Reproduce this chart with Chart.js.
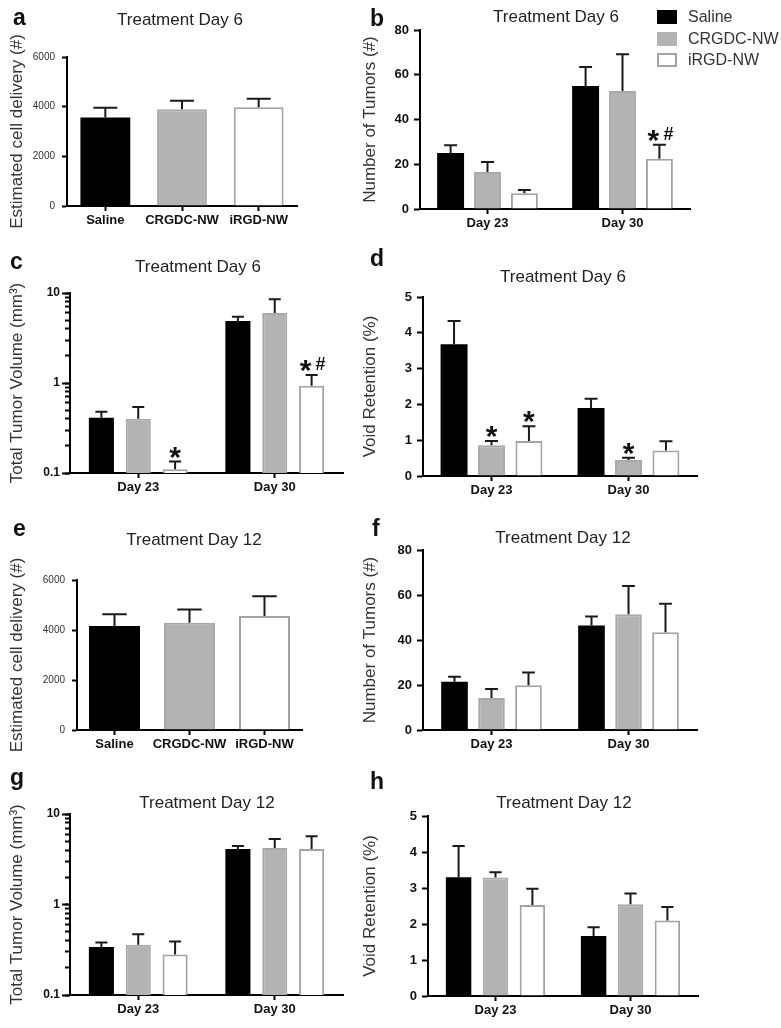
<!DOCTYPE html>
<html>
<head>
<meta charset="utf-8">
<script src="https://cdn.jsdelivr.net/npm/chart.js@4.4.1/dist/chart.umd.min.js"></script>
<style>
  body { margin: 0; background: #fff; width: 781px; height: 1028px; position: relative; overflow: hidden;
         font-family: 'Liberation Sans', Arial, sans-serif; }
  canvas { position: absolute; }
  .letter { position: absolute; font-weight: bold; font-size: 23px; line-height: 23px; color: #111; }
  .ttl { position: absolute; font-size: 17px; line-height: 17px; color: #222; white-space: nowrap; transform: translateX(-50%); }
  .sw { position: absolute; width: 20px; height: 14px; box-sizing: border-box; }
  .lt { position: absolute; font-size: 16px; line-height: 16px; color: #333; white-space: nowrap; }
</style>
</head>
<body>
<canvas id="ca"></canvas><canvas id="cb"></canvas>
<canvas id="cc"></canvas><canvas id="cd"></canvas>
<canvas id="ce"></canvas><canvas id="cf"></canvas>
<canvas id="cg"></canvas><canvas id="ch"></canvas>

<div class="letter" style="left:13px;top:6px">a</div>
<div class="letter" style="left:370px;top:7px">b</div>
<div class="letter" style="left:10px;top:250px">c</div>
<div class="letter" style="left:370px;top:247px">d</div>
<div class="letter" style="left:13px;top:517px">e</div>
<div class="letter" style="left:372px;top:517px">f</div>
<div class="letter" style="left:10px;top:766px">g</div>
<div class="letter" style="left:370px;top:770px">h</div>

<div class="ttl" style="left:180px;top:11px">Treatment Day 6</div>
<div class="ttl" style="left:556px;top:8px">Treatment Day 6</div>
<div class="ttl" style="left:198px;top:258px">Treatment Day 6</div>
<div class="ttl" style="left:563px;top:268px">Treatment Day 6</div>
<div class="ttl" style="left:194px;top:531px">Treatment Day 12</div>
<div class="ttl" style="left:563px;top:529px">Treatment Day 12</div>
<div class="ttl" style="left:207px;top:794px">Treatment Day 12</div>
<div class="ttl" style="left:564px;top:794px">Treatment Day 12</div>

<div class="sw" style="left:657px;top:10px;background:#000"></div>
<div class="lt" style="left:688px;top:9px">Saline</div>
<div class="sw" style="left:657px;top:32px;background:#b3b3b3"></div>
<div class="lt" style="left:688px;top:31px">CRGDC-NW</div>
<div class="sw" style="left:657px;top:53px;background:#fff;border:2px solid #a3a3a3"></div>
<div class="lt" style="left:688px;top:52px">iRGD-NW</div>

<script>
// categories
const GROUPS = ['Saline', 'CRGDC-NW', 'iRGD-NW'];
const DAYS = ['Day 23', 'Day 30'];

// a, e: estimated cell delivery, mean and SEM per group
const A_MEAN = [3560, 3900, 3980];
const A_SEM = [400, 340, 340];
const E_MEAN = [4160, 4290, 4560];
const E_SEM = [470, 530, 790];

// b, f: number of tumors (rows = groups, columns = days)
const B_MEAN = [[25, 55], [16.5, 52.7], [7, 22.5]];
const B_SEM = [[3.5, 8.5], [4.5, 16.5], [1.5, 6.2]];
const B_MARKS = [['', ''], ['', ''], ['', '*#']];
const F_MEAN = [[21.5, 46.5], [14.2, 51.4], [19.9, 43.4]];
const F_SEM = [[2.2, 3.9], [4.0, 12.6], [5.7, 12.7]];

// c, g: total tumor volume (mm3)
const C_MEAN = [[0.41, 4.9], [0.40, 6.0], [0.11, 0.93]];
const C_SEM = [[0.07, 0.55], [0.14, 2.5], [0.024, 0.30]];
const C_MARKS = [['', ''], ['', ''], ['*', '*#']];
const G_MEAN = [[0.34, 4.1], [0.36, 4.2], [0.28, 4.1]];
const G_SEM = [[0.04, 0.33], [0.11, 1.1], [0.11, 1.56]];

// d, h: void retention (%)
const D_MEAN = [[3.68, 1.90], [0.86, 0.45], [0.98, 0.71]];
const D_SEM = [[0.65, 0.26], [0.12, 0.06], [0.41, 0.26]];
const D_MARKS = [['', ''], ['*', '*'], ['*', '']];
const H_MEAN = [[3.30, 1.67], [3.29, 2.55], [2.53, 2.10]];
const H_SEM = [[0.87, 0.24], [0.15, 0.30], [0.45, 0.37]];

// tick values
const CELL_TICKS = [0, 2000, 4000, 6000];
const COUNT_TICKS = [0, 20, 40, 60, 80];
const VOID_TICKS = [0, 1, 2, 3, 4, 5];
const LOG_TICKS = [0.1, 0.2, 0.3, 0.4, 0.5, 0.6, 0.7, 0.8, 0.9, 1, 2, 3, 4, 5, 6, 7, 8, 9, 10];
const LOG_LABELS = [0.1, 1, 10];

const FILL = ['#000000', '#b3b3b3', '#ffffff'];
const EDGE = ['#000000', '#a9a9a9', '#a3a3a3'];
const FONT = "'Liberation Sans', Arial, sans-serif";

Chart.defaults.font.family = FONT;

function drawMark(ctx, x, top, mark) {
  const chars = mark.split('');
  const offs = chars.length > 1 ? [-6, 9] : [0];
  ctx.fillStyle = '#111';
  ctx.textAlign = 'center';
  ctx.textBaseline = 'alphabetic';
  chars.forEach((ch, k) => {
    if (ch === '*') {
      ctx.font = 'bold 30px ' + FONT;
      ctx.fillText('*', x + offs[k], top + 5);
    } else {
      ctx.font = 'bold 18px ' + FONT;
      ctx.fillText(ch, x + offs[k], top - 5);
    }
  });
}

// upper error bars (mean + SEM) and significance marks
const errorBars = {
  id: 'errorBars',
  afterDatasetsDraw(chart) {
    const ctx = chart.ctx;
    const y = chart.scales.y;
    chart.data.datasets.forEach((ds, di) => {
      chart.getDatasetMeta(di).data.forEach((bar, i) => {
        const top = y.getPixelForValue(ds.data[i] + ds.sem[i]);
        const cap = bar.width * 0.48;
        ctx.save();
        ctx.strokeStyle = '#1a1a1a';
        ctx.lineWidth = 2;
        ctx.beginPath();
        ctx.moveTo(bar.x, bar.y);
        ctx.lineTo(bar.x, top);
        ctx.moveTo(bar.x - cap / 2, top);
        ctx.lineTo(bar.x + cap / 2, top);
        ctx.stroke();
        if (ds.marks && ds.marks[i]) drawMark(ctx, bar.x, top, ds.marks[i]);
        ctx.restore();
      });
    });
  }
};

function groupSets(mean, sem, marks, cat, bar) {
  return GROUPS.map((g, k) => ({
    label: g, data: mean[k], sem: sem[k], marks: marks ? marks[k] : null,
    backgroundColor: FILL[k], borderColor: EDGE[k], borderWidth: k === 0 ? 0 : 2,
    categoryPercentage: cat, barPercentage: bar
  }));
}

function singleSet(mean, sem, bar) {
  return [{
    label: 'delivery', data: mean, sem: sem,
    backgroundColor: FILL, borderColor: EDGE, borderWidth: [0, 2, 2],
    categoryPercentage: 1, barPercentage: bar
  }];
}

function makePanel(id, box, area, spec) {
  const cv = document.getElementById(id);
  cv.width = box[2]; cv.height = box[3];
  cv.style.left = box[0] + 'px'; cv.style.top = box[1] + 'px';
  const yWidth = area[0] - box[0];
  const xHeight = box[1] + box[3] - area[3];
  const isLog = spec.yType === 'logarithmic';
  const shown = isLog ? LOG_LABELS : spec.ticks;
  const scales = {
    x: {
      type: 'category',
      afterFit: s => { s.height = xHeight; },
      grid: { display: true, drawOnChartArea: false, drawTicks: true, offset: false,
              tickLength: 5, tickWidth: 2, tickColor: '#000' },
      border: { display: true, color: '#000', width: 2 },
      ticks: { autoSkip: false, maxRotation: 0, padding: 2, color: '#111',
               font: { size: 13, weight: 'bold' } }
    },
    y: {
      type: spec.yType,
      weight: 1,
      min: spec.ticks[0],
      max: spec.ticks[spec.ticks.length - 1],
      afterBuildTicks: s => { s.ticks = spec.ticks.map(v => ({ value: v, major: shown.includes(v) })); },
      afterFit: s => { s.width = yWidth; },
      ticks: { autoSkip: false, padding: spec.tickPad, color: spec.tickColor, font: spec.tickFont,
               callback: v => shown.includes(v) ? String(v) : '' },
      grid: { display: true, drawOnChartArea: false, drawTicks: true, tickLength: spec.tickLen,
              tickColor: '#000', tickWidth: 2 },
      border: { display: true, color: '#000', width: 2 },
      title: { display: true, text: spec.yTitle, color: '#333',
               font: { size: 17, weight: 'normal' }, padding: { top: 7, bottom: 0 } }
    }
  };
  if (isLog) {
    // second, label-less log axis carrying the longer decade ticks
    scales.yMajor = {
      type: 'logarithmic', position: 'left', weight: 0,
      min: spec.ticks[0], max: spec.ticks[spec.ticks.length - 1],
      afterBuildTicks: s => { s.ticks = LOG_LABELS.map(v => ({ value: v, major: true })); },
      afterFit: s => { s.width = 0; },
      ticks: { display: false },
      grid: { display: true, drawOnChartArea: false, drawTicks: true, tickLength: 8,
              tickColor: '#000', tickWidth: 2 },
      border: { display: false }
    };
  }
  new Chart(cv, {
    type: 'bar',
    data: { labels: spec.labels, datasets: spec.datasets },
    options: {
      responsive: false,
      animation: false,
      devicePixelRatio: 1,
      layout: { padding: { left: 0, bottom: 0, top: area[1] - box[1], right: box[0] + box[2] - area[2] } },
      plugins: { legend: { display: false }, tooltip: { enabled: false } },
      scales: scales
    },
    plugins: [errorBars]
  });
}

const regularTick = { size: 10, weight: 'normal' };
const boldTick = { size: 13, weight: 'bold' };
const logTick = { size: 12, weight: 'bold' };

// a
makePanel('ca', [0, 0, 353, 240], [67, 57, 297, 206], {
  labels: GROUPS, datasets: singleSet(A_MEAN, A_SEM, 0.65),
  yType: 'linear', ticks: CELL_TICKS, tickFont: regularTick, tickColor: '#333', tickLen: 5, tickPad: 7,
  yTitle: 'Estimated cell delivery (#)'
});
// b
makePanel('cb', [353, 0, 428, 240], [420, 30, 690, 209], {
  labels: DAYS, datasets: groupSets(B_MEAN, B_SEM, B_MARKS, 0.82, 0.73),
  yType: 'linear', ticks: COUNT_TICKS, tickFont: boldTick, tickColor: '#111', tickLen: 6, tickPad: 5,
  yTitle: 'Number of Tumors (#)'
});
// c
makePanel('cc', [0, 240, 353, 260], [70, 293, 343, 473], {
  labels: DAYS, datasets: groupSets(C_MEAN, C_SEM, C_MARKS, 0.81, 0.68),
  yType: 'logarithmic', ticks: LOG_TICKS, tickFont: logTick, tickColor: '#111', tickLen: 5, tickPad: 5,
  yTitle: 'Total Tumor Volume (mm\u00b3)'
});
// d
makePanel('cd', [353, 240, 428, 260], [423, 297, 697, 476], {
  labels: DAYS, datasets: groupSets(D_MEAN, D_SEM, D_MARKS, 0.82, 0.72),
  yType: 'linear', ticks: VOID_TICKS, tickFont: boldTick, tickColor: '#111', tickLen: 6, tickPad: 5,
  yTitle: 'Void Retention (%)'
});
// e
makePanel('ce', [0, 500, 353, 260], [77, 580, 302, 730], {
  labels: GROUPS, datasets: singleSet(E_MEAN, E_SEM, 0.68),
  yType: 'linear', ticks: CELL_TICKS, tickFont: regularTick, tickColor: '#333', tickLen: 5, tickPad: 7,
  yTitle: 'Estimated cell delivery (#)'
});
// f
makePanel('cf', [353, 500, 428, 260], [423, 550, 697, 730], {
  labels: DAYS, datasets: groupSets(F_MEAN, F_SEM, null, 0.81, 0.72),
  yType: 'linear', ticks: COUNT_TICKS, tickFont: boldTick, tickColor: '#111', tickLen: 6, tickPad: 5,
  yTitle: 'Number of Tumors (#)'
});
// g
makePanel('cg', [0, 760, 353, 268], [70, 814, 343, 995], {
  labels: DAYS, datasets: groupSets(G_MEAN, G_SEM, null, 0.81, 0.68),
  yType: 'logarithmic', ticks: LOG_TICKS, tickFont: logTick, tickColor: '#111', tickLen: 5, tickPad: 5,
  yTitle: 'Total Tumor Volume (mm\u00b3)'
});
// h
makePanel('ch', [353, 760, 428, 268], [428, 816, 698, 996], {
  labels: DAYS, datasets: groupSets(H_MEAN, H_SEM, null, 0.82, 0.69),
  yType: 'linear', ticks: VOID_TICKS, tickFont: boldTick, tickColor: '#111', tickLen: 6, tickPad: 5,
  yTitle: 'Void Retention (%)'
});
</script>
</body>
</html>
